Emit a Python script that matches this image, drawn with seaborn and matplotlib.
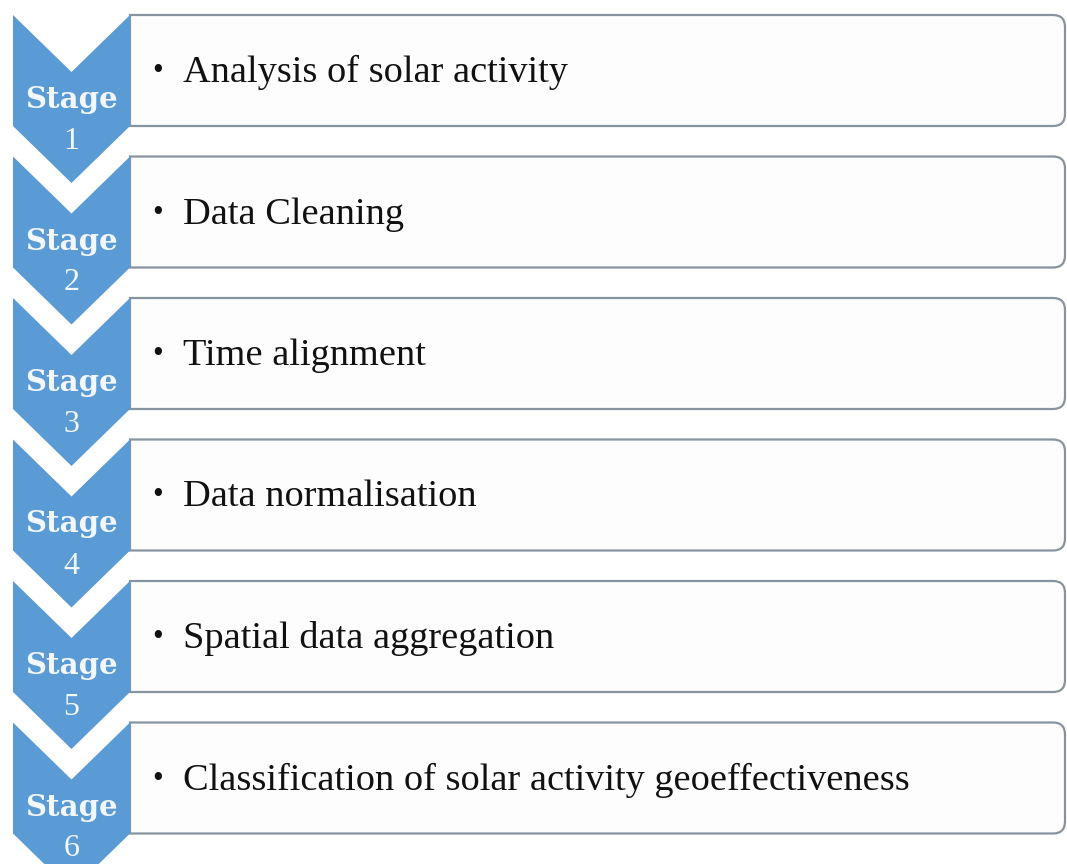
import matplotlib
matplotlib.use("Agg")
import matplotlib.pyplot as plt
import seaborn as sns
from matplotlib.path import Path
from matplotlib.patches import PathPatch, Polygon

# stage data
stage_numbers = ["1", "2", "3", "4", "5", "6"]
stage_texts = [
    "Analysis of solar activity",
    "Data Cleaning",
    "Time alignment",
    "Data normalisation",
    "Spatial data aggregation",
    "Classification of solar activity geoeffectiveness",
]

sns.set_theme(style="white")
plt.rcParams['font.family'] = ['Liberation Serif', 'DejaVu Serif']

fig = plt.figure(figsize=(10.67, 8.64), dpi=100)
ax = fig.add_axes([0, 0, 1, 1])
ax.set_xlim(0, 1067)
ax.set_ylim(864, 0)
ax.axis('off')

blue = '#5b9bd5'
edge = '#8794a0'
step = 141.5
x0, x1 = 13, 130      # chevron left / right
xr = 1065             # box right
h = 111               # box height
notch = 57
r = 12

for i, (num, txt) in enumerate(zip(stage_numbers, stage_texts)):
    top = 15 + step * i
    bot = top + h
    xm = (x0 + x1) / 2

    # box with rounded right corners
    verts = [(x1, top), (xr - r, top), (xr, top), (xr, top + r),
             (xr, bot - r), (xr, bot), (xr - r, bot), (x1, bot), (x1, top)]
    codes = [Path.MOVETO, Path.LINETO, Path.CURVE3, Path.CURVE3,
             Path.LINETO, Path.CURVE3, Path.CURVE3, Path.LINETO, Path.CLOSEPOLY]
    ax.add_patch(PathPatch(Path(verts, codes), facecolor='#fdfdfd',
                           edgecolor=edge, lw=1.6, zorder=1))

    # chevron
    chev = [(x0, top), (xm, top + notch), (x1, top), (x1, bot),
            (xm, bot + notch), (x0, bot)]
    ax.add_patch(Polygon(chev, closed=True, facecolor=blue,
                         edgecolor='none', zorder=2))

    ax.text(xm, top + 93, "Stage", ha='center', va='baseline', color='#f2f7fc',
            fontsize=21, fontweight='bold', family='DejaVu Serif', zorder=3)
    ax.text(xm, top + 134, num, ha='center', va='baseline', color='#f2f7fc',
            fontsize=23, zorder=3)

    ax.text(158, top + 64, "\u2022", ha='center', va='baseline',
            color='#111111', fontsize=22, zorder=3)
    ax.text(183, top + 67, txt, ha='left', va='baseline',
            color='#111111', fontsize=27.6, zorder=3)

fig.savefig('out.png', dpi=100, facecolor='white')
